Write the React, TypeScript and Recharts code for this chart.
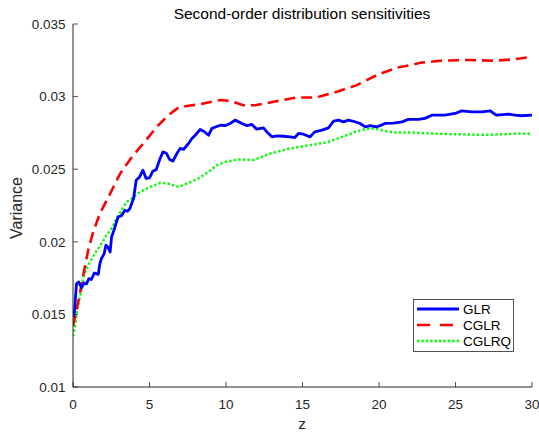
import React from 'react';
import { LineChart, Line, XAxis, YAxis } from 'recharts';

const xTicks = [0, 5, 10, 15, 20, 25, 30];
const yTicks = [0.01, 0.015, 0.02, 0.025, 0.03, 0.035];
const yTickLabels = ['0.01', '0.015', '0.02', '0.025', '0.03', '0.035'];

const glrZ = [0, 0.08, 0.23, 0.38, 0.56, 0.73, 0.88, 1.04, 1.2, 1.39, 1.65, 1.76, 1.86, 2.04, 2.15, 2.3, 2.43, 2.52, 2.69, 2.84, 2.95, 3.17, 3.39, 3.56, 3.72, 3.87, 3.96, 4.13, 4.35, 4.57, 4.78, 5.0, 5.22, 5.44, 5.65, 5.88, 6.1, 6.31, 6.53, 6.79, 7.0, 7.23, 7.55, 7.77, 7.99, 8.31, 8.57, 8.86, 9.08, 9.36, 9.62, 9.95, 10.27, 10.6, 11.04, 11.37, 11.69, 12.0, 12.45, 12.67, 13.0, 13.3, 13.74, 14.2, 14.5, 14.74, 15.06, 15.5, 15.8, 16.27, 16.7, 17.03, 17.35, 17.68, 18.0, 18.33, 18.77, 19.1, 19.43, 19.86, 20.07, 20.4, 20.95, 21.5, 21.93, 22.58, 23.0, 23.45, 24.3, 24.98, 25.4, 26.07, 26.7, 27.27, 27.5, 27.7, 28.46, 28.9, 29.3, 30];
const glrV = [0.0148, 0.015, 0.01712, 0.01723, 0.01684, 0.01716, 0.0171, 0.01746, 0.0174, 0.01785, 0.01776, 0.0185, 0.01884, 0.01919, 0.01976, 0.0196, 0.0193, 0.02033, 0.02084, 0.02136, 0.02171, 0.0218, 0.02217, 0.0221, 0.02229, 0.02274, 0.02298, 0.02424, 0.02447, 0.02493, 0.02436, 0.0244, 0.02486, 0.02497, 0.02562, 0.02619, 0.0261, 0.02567, 0.02556, 0.02608, 0.02643, 0.02636, 0.02677, 0.02712, 0.02734, 0.02774, 0.0276, 0.02734, 0.02781, 0.02792, 0.02803, 0.028, 0.02815, 0.02838, 0.02815, 0.028, 0.02808, 0.02776, 0.02785, 0.02757, 0.02723, 0.0273, 0.02727, 0.02723, 0.02718, 0.02746, 0.02741, 0.02723, 0.02757, 0.02769, 0.02785, 0.02831, 0.02838, 0.02826, 0.02838, 0.0283, 0.02815, 0.02792, 0.028, 0.02792, 0.028, 0.02815, 0.02818, 0.02826, 0.02843, 0.02843, 0.0285, 0.02872, 0.02872, 0.02884, 0.02902, 0.02895, 0.02895, 0.02902, 0.02884, 0.02872, 0.0288, 0.02872, 0.02868, 0.02872];

const cglrZ = [0, 0.08, 0.23, 0.45, 0.73, 0.99, 1.32, 1.76, 2.43, 3.08, 3.85, 4.6, 5.48, 6.24, 6.9, 7.44, 8.31, 9.62, 10.3, 11.13, 11.9, 13.1, 14.63, 15.9, 17.25, 18.55, 19.86, 21.17, 22.0, 22.7, 24.0, 25.75, 27.5, 28.8, 30];
const cglrV = [0.0142, 0.01459, 0.01528, 0.01643, 0.01803, 0.01941, 0.02068, 0.02194, 0.02332, 0.0247, 0.02585, 0.02677, 0.02792, 0.02872, 0.02925, 0.02935, 0.02948, 0.02976, 0.0297, 0.02941, 0.0294, 0.02964, 0.02994, 0.02994, 0.03033, 0.03079, 0.03148, 0.03199, 0.03215, 0.03233, 0.03247, 0.03252, 0.03247, 0.03256, 0.03275];

const cglrqZ = [0, 0.16, 0.3, 0.5, 0.67, 0.99, 1.43, 1.86, 2.19, 2.52, 2.84, 3.17, 3.5, 3.85, 4.39, 5.05, 5.7, 6.24, 6.9, 7.55, 8.2, 8.86, 9.4, 9.95, 10.82, 11.8, 12.9, 14.2, 15.5, 16.6, 17.9, 18.45, 19.1, 19.75, 20.3, 21.06, 22.1, 23.45, 24.76, 25.85, 26.93, 28.2, 29.1, 30];
const cglrqV = [0.0135, 0.01436, 0.0155, 0.01643, 0.01757, 0.01838, 0.01919, 0.01987, 0.02045, 0.02091, 0.0216, 0.02217, 0.02274, 0.02298, 0.02344, 0.02378, 0.02406, 0.024, 0.02378, 0.02406, 0.02436, 0.02482, 0.02528, 0.0255, 0.02567, 0.02563, 0.02608, 0.02643, 0.02666, 0.02685, 0.02734, 0.02757, 0.02776, 0.02781, 0.02764, 0.02753, 0.02753, 0.02746, 0.02741, 0.02739, 0.02737, 0.02741, 0.02746, 0.02744];

const glrData = glrZ.map((z, i) => ({ z, v: glrV[i] }));
const cglrData = cglrZ.map((z, i) => ({ z, v: cglrV[i] }));
const cglrqData = cglrqZ.map((z, i) => ({ z, v: cglrqV[i] }));

const W = 539;
const H = 435;
const FONT = '"Liberation Sans", Arial, Helvetica, sans-serif';
const AX = '#262626';
const TICK_FS = 13.5;
const TICK_LEN = 5;

const BottomTick = (p: any) => (
  <g>
    <line x1={p.x} y1={p.y} x2={p.x} y2={p.y - TICK_LEN} stroke={AX} strokeWidth={0.8} />
    <text x={p.x} y={p.y + 21.8} textAnchor="middle" fontFamily={FONT} fontSize={TICK_FS} fill={AX}>
      {p.payload.value}
    </text>
  </g>
);
const TopTick = (p: any) => (
  <line x1={p.x} y1={p.y} x2={p.x} y2={p.y + TICK_LEN} stroke={AX} strokeWidth={0.8} />
);
const LeftTick = (p: any) => {
  const idx = yTicks.indexOf(p.payload.value);
  return (
    <g>
      <line x1={p.x} y1={p.y} x2={p.x + TICK_LEN} y2={p.y} stroke={AX} strokeWidth={0.8} />
      <text x={p.x - 7.5} y={p.y + 4.8} textAnchor="end" fontFamily={FONT} fontSize={TICK_FS} fill={AX}>
        {idx >= 0 ? yTickLabels[idx] : p.payload.value}
      </text>
    </g>
  );
};
const RightTick = (p: any) => (
  <line x1={p.x} y1={p.y} x2={p.x - TICK_LEN} y2={p.y} stroke={AX} strokeWidth={0.8} />
);

export default function App() {
  return (
    <div style={{ position: 'absolute', left: 0, top: 0, width: W, height: H, background: '#fff' }}>
      <LineChart width={W} height={H} margin={{ top: 24, right: 7, bottom: 0, left: 0 }}>
        <XAxis xAxisId="b" dataKey="z" type="number" domain={[0, 30]} ticks={xTicks} orientation="bottom"
          height={48} tickSize={0} tickMargin={0} tick={<BottomTick />} axisLine={{ stroke: AX, strokeWidth: 1 }}
          allowDataOverflow interval={0} />
        <XAxis xAxisId="t" dataKey="z" type="number" domain={[0, 30]} ticks={xTicks} orientation="top"
          height={0} tickSize={0} tickMargin={0} tick={<TopTick />} axisLine={{ stroke: AX, strokeWidth: 1 }}
          allowDataOverflow interval={0} />
        <YAxis yAxisId="l" type="number" domain={[0.01, 0.035]} ticks={yTicks} orientation="left"
          width={73} tickSize={0} tickMargin={0} tick={<LeftTick />} axisLine={{ stroke: AX, strokeWidth: 1 }}
          allowDataOverflow interval={0} />
        <YAxis yAxisId="r" type="number" domain={[0.01, 0.035]} ticks={yTicks} orientation="right"
          width={0} tickSize={0} tickMargin={0} tick={<RightTick />} axisLine={{ stroke: AX, strokeWidth: 1 }}
          allowDataOverflow interval={0} />
        <Line xAxisId="b" yAxisId="l" data={cglrqData} dataKey="v" type="linear" stroke="#00ff00" strokeWidth={2.4}
          strokeDasharray="2.4 2.2" dot={false} isAnimationActive={false} />
        <Line xAxisId="b" yAxisId="l" data={cglrData} dataKey="v" type="linear" stroke="#ff0000" strokeWidth={2.6}
          strokeDasharray="11 6" dot={false} isAnimationActive={false} />
        <Line xAxisId="b" yAxisId="l" data={glrData} dataKey="v" type="linear" stroke="#0000ff" strokeWidth={2.8}
          dot={false} isAnimationActive={false} strokeLinejoin="round" />
      </LineChart>
      <svg width={W} height={H} style={{ position: 'absolute', left: 0, top: 0, pointerEvents: 'none' }}>
        <text x={302} y={19} textAnchor="middle" fontFamily={FONT} fontSize={15.5} fill="#000">
          Second-order distribution sensitivities
        </text>
        <text x={302} y={429} textAnchor="middle" fontFamily={FONT} fontSize={15.5} fill={AX}>z</text>
        <text x={0} y={0} transform="translate(22,208) rotate(-90)" textAnchor="middle" fontFamily={FONT} fontSize={16} fill={AX}>
          Variance
        </text>
        <g>
          <rect x={413.5} y={299.5} width={100} height={52} fill="#fff" stroke={AX} strokeWidth={0.8} />
          <line x1={417} y1={309} x2={459} y2={309} stroke="#0000ff" strokeWidth={2.8} />
          <line x1={417} y1={325} x2={459} y2={325} stroke="#ff0000" strokeWidth={2.6} strokeDasharray="13 10" />
          <line x1={417} y1={341} x2={459} y2={341} stroke="#00ff00" strokeWidth={2.4} strokeDasharray="2.4 2" />
          <text x={463} y={313.5} fontFamily={FONT} fontSize={13.5} fill="#000">GLR</text>
          <text x={463} y={329.5} fontFamily={FONT} fontSize={13.5} fill="#000">CGLR</text>
          <text x={463} y={345.5} fontFamily={FONT} fontSize={13.5} fill="#000">CGLRQ</text>
        </g>
      </svg>
    </div>
  );
}
